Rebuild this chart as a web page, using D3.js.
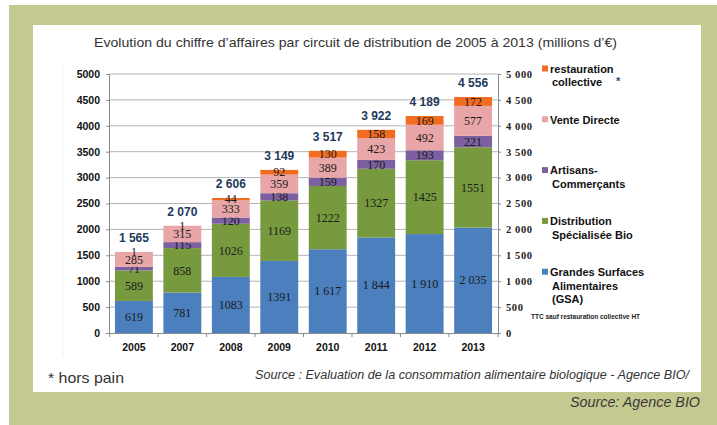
<!DOCTYPE html>
<html>
<head>
<meta charset="utf-8">
<script src="https://cdn.jsdelivr.net/npm/d3@7"></script>
<style>
  html, body { margin: 0; padding: 0; background: #fff; }
  svg { display: block; }
</style>
</head>
<body>
<div id="chart"></div>
<script>
// data (millions d'euros)
var years = ["2005", "2007", "2008", "2009", "2010", "2011", "2012", "2013"];
var gsa = [619, 781, 1083, 1391, 1617, 1844, 1910, 2035];
var gsaLabels = ["619", "781", "1083", "1391", "1 617", "1 844", "1 910", "2 035"];
var distribBio = [589, 858, 1026, 1169, 1222, 1327, 1425, 1551];
var artisans = [71, 115, 120, 138, 159, 170, 193, 221];
var venteDirecte = [285, 315, 333, 359, 389, 423, 492, 577];
var restauration = [1, 1, 44, 92, 130, 158, 169, 172];
var yTicks = [0, 500, 1000, 1500, 2000, 2500, 3000, 3500, 4000, 4500, 5000];

var seriesNames = ["gsa", "bio", "art", "vd", "rest"];
var seriesColors = ["#4b7fbe", "#789a3e", "#7c609f", "#e8a6a8", "#f26d22"];
var legendLines = [
  ["Grandes Surfaces", "Alimentaires", "(GSA)"],
  ["Distribution", "Spécialisée Bio"],
  ["Artisans-", "Commerçants"],
  ["Vente Directe"],
  ["restauration", "collective"]
];

var W = 717, H = 425;
var svg = d3.select("#chart").append("svg").attr("width", W).attr("height", H);

// green frame + white panel
svg.append("rect").attr("x", 9).attr("y", 5).attr("width", W - 9).attr("height", H - 5).attr("fill", "#c4c98f");
svg.append("rect").attr("x", 33).attr("y", 25).attr("width", 668).attr("height", 367).attr("fill", "#fff");

// faint excel chart border
svg.append("path").attr("d", "M63,62 V357").attr("fill", "none").attr("stroke", "#f3f3f3");

svg.append("text")
  .attr("x", 94).attr("y", 47)
  .attr("font-family", "'Liberation Sans Narrow', 'Arial Narrow', 'Liberation Sans', sans-serif")
  .attr("font-size", 13.5).attr("fill", "#333")
  .attr("textLength", 523).attr("lengthAdjust", "spacingAndGlyphs")
  .text("Evolution du chiffre d’affaires par circuit de distribution de 2005 à 2013 (millions d’€)");

var plotL = 109, plotR = 498, plotT = 74, plotB = 333;

var x = d3.scaleBand().domain(years).range([plotL, plotR]).paddingInner(0.218).paddingOuter(0.123);
var y = d3.scaleLinear().domain([0, 5000]).range([plotB, plotT]);

var fr = d3.formatLocale({decimal: ",", thousands: " ", grouping: [3], currency: ["", "€"]});
var fmtSpace = fr.format(",d");

// gridlines
svg.append("g").selectAll("line").data(yTicks.slice(1)).enter().append("line")
  .attr("x1", plotL).attr("x2", plotR)
  .attr("y1", function(d) { return y(d); }).attr("y2", function(d) { return y(d); })
  .attr("stroke", "#b4b4b4").attr("stroke-width", 1);

// stacked data
var table = years.map(function(yr, i) {
  return {year: yr, gsa: gsa[i], bio: distribBio[i], art: artisans[i], vd: venteDirecte[i], rest: restauration[i], idx: i};
});
var stack = d3.stack().keys(seriesNames)(table);

var layers = svg.append("g").selectAll("g").data(stack).enter().append("g")
  .attr("fill", function(d, i) { return seriesColors[i]; });

layers.selectAll("rect").data(function(d) { return d; }).enter().append("rect")
  .attr("x", function(d) { return x(d.data.year); })
  .attr("width", x.bandwidth())
  .attr("y", function(d) { return y(d[1]); })
  .attr("height", function(d) { return y(d[0]) - y(d[1]); });

// axes
var axL = svg.append("g").attr("transform", "translate(" + plotL + ",0)")
  .call(d3.axisLeft(y).tickValues(yTicks).tickFormat(d3.format("d")).tickSize(3).tickPadding(6));
var axR = svg.append("g").attr("transform", "translate(" + plotR + ",0)")
  .call(d3.axisRight(y).tickValues(yTicks).tickFormat(fmtSpace).tickSize(3).tickPadding(5));
var axB = svg.append("g").attr("transform", "translate(0," + plotB + ")")
  .call(d3.axisBottom(x).tickSize(0).tickPadding(11));

[axL, axR, axB].forEach(function(a) {
  a.selectAll(".domain").attr("stroke", "#8a8a8a");
  a.selectAll(".tick line").attr("stroke", "#8a8a8a");
});
axL.selectAll("text").attr("font-family", "'Liberation Sans', Arial, sans-serif")
  .attr("font-weight", "bold").attr("font-size", 10.5).attr("fill", "#111");
axB.selectAll("text").attr("font-family", "'Liberation Sans', Arial, sans-serif")
  .attr("font-weight", "bold").attr("font-size", 10.5).attr("fill", "#111");
axR.selectAll("text").attr("font-family", "'Liberation Serif', 'Times New Roman', serif")
  .attr("font-weight", "bold").attr("font-size", 10.5).attr("fill", "#222")
  .attr("letter-spacing", 0.6);

// small ticks between categories on x axis
var bounds = years.map(function(yr) { return x(yr) - x.step() * x.paddingInner() / 2; });
bounds.push(plotR);
svg.append("g").selectAll("line").data(bounds).enter().append("line")
  .attr("x1", function(d) { return d; }).attr("x2", function(d) { return d; })
  .attr("y1", plotB).attr("y2", plotB + 4).attr("stroke", "#8a8a8a");

// segment labels
layers.each(function(s, si) {
  d3.select(this).selectAll("text").data(s).enter().append("text")
    .attr("x", function(d) { return x(d.data.year) + x.bandwidth() / 2; })
    .attr("y", function(d) { return (y(d[0]) + y(d[1])) / 2; })
    .attr("dy", "0.35em")
    .attr("text-anchor", "middle")
    .attr("font-family", "'Liberation Serif', 'Times New Roman', serif")
    .attr("font-size", 12).attr("fill", "#1a1a1a")
    .text(function(d) { return si === 0 ? gsaLabels[d.data.idx] : String(d[1] - d[0]); });
});

// totals
svg.append("g").selectAll("text").data(table).enter().append("text")
  .attr("x", function(d) { return x(d.year) + x.bandwidth() / 2; })
  .attr("y", function(d) { return y(d.gsa + d.bio + d.art + d.vd + d.rest) - 10; })
  .attr("text-anchor", "middle")
  .attr("font-family", "'Liberation Sans', Arial, sans-serif")
  .attr("font-weight", "bold").attr("font-size", 12).attr("fill", "#22395c")
  .text(function(d) { return fmtSpace(d.gsa + d.bio + d.art + d.vd + d.rest); });

// legend (top entry = last series)
var legend = svg.append("g");
for (var k = seriesNames.length - 1; k >= 0; k--) {
  var pos = seriesNames.length - 1 - k;
  var ly = 69 + pos * 50.8;
  legend.append("rect").attr("x", 542).attr("y", ly - 3.5).attr("width", 6).attr("height", 6)
    .attr("fill", seriesColors[k]);
  var t = legend.append("text")
    .attr("x", 550).attr("y", ly)
    .attr("font-family", "'Liberation Sans', Arial, sans-serif")
    .attr("font-weight", "bold").attr("font-size", 11).attr("fill", "#111");
  legendLines[k].forEach(function(line, li) {
    t.append("tspan").attr("x", li === 0 ? 550 : 552).attr("y", ly + li * 13.5).attr("dy", "0.35em").text(line);
  });
}
legend.append("text").attr("x", 616).attr("y", 85).attr("font-family", "'Liberation Sans', Arial, sans-serif")
  .attr("font-weight", "bold").attr("font-size", 11).attr("fill", "#2a4a7a").text("*");

svg.append("text").attr("x", 531).attr("y", 319)
  .attr("font-family", "'Liberation Sans', Arial, sans-serif")
  .attr("font-weight", "bold").attr("font-size", 6.5).attr("fill", "#222")
  .text("TTC sauf restauration collective HT");

// footnotes
svg.append("text").attr("x", 48).attr("y", 383)
  .attr("font-family", "'Liberation Sans Narrow', 'Liberation Sans', sans-serif")
  .attr("font-size", 15).attr("fill", "#333")
  .attr("textLength", 76).attr("lengthAdjust", "spacingAndGlyphs")
  .text("* hors pain");
svg.append("text").attr("x", 255).attr("y", 379)
  .attr("font-family", "'Liberation Sans Narrow', 'Liberation Sans', sans-serif")
  .attr("font-style", "italic").attr("font-size", 12.5).attr("fill", "#333")
  .attr("textLength", 434).attr("lengthAdjust", "spacingAndGlyphs")
  .text("Source : Evaluation de la consommation alimentaire biologique - Agence BIO/");
svg.append("text").attr("x", 570).attr("y", 407)
  .attr("font-family", "'Liberation Sans Narrow', 'Liberation Sans', sans-serif")
  .attr("font-style", "italic").attr("font-size", 15).attr("fill", "#3a3a3a")
  .attr("textLength", 130).attr("lengthAdjust", "spacingAndGlyphs")
  .text("Source: Agence BIO");
</script>
</body>
</html>
